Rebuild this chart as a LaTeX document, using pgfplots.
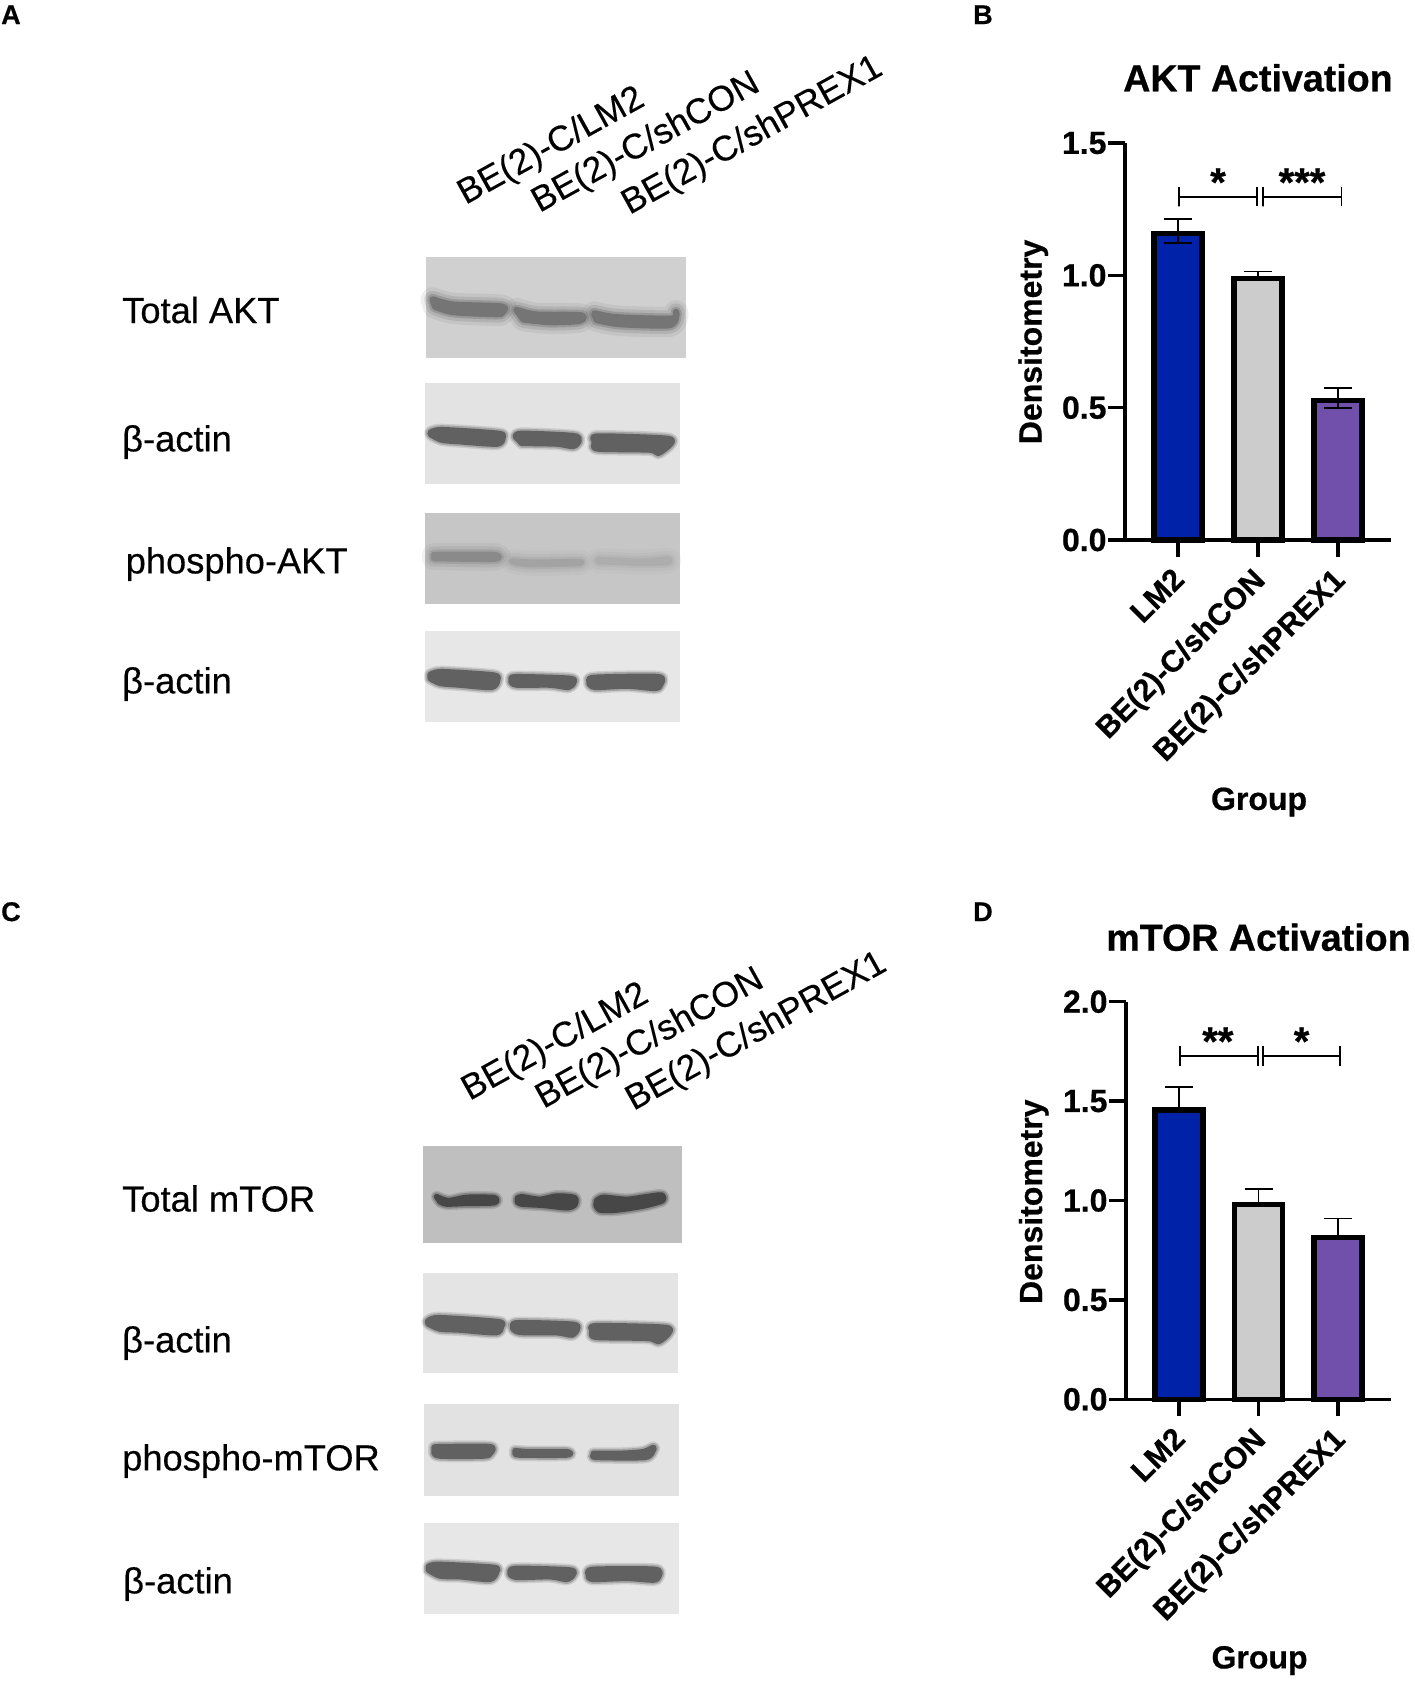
\documentclass[border=0pt]{standalone}
\usepackage{pgfplots}
\pgfplotsset{compat=1.18}
\usepackage{fontspec}
\setmainfont{Liberation Sans}[BoldFeatures={FakeBold=0.6}]
\newfontfamily\lab{Liberation Sans}[FakeBold=0.3]
\definecolor{barblue}{HTML}{0022A8}
\definecolor{bargray}{HTML}{CCCCCC}
\definecolor{barpurple}{HTML}{7050AA}
\newcommand\fs[1]{\fontsize{#1}{#1}\selectfont}
\pgfplotsset{
  zA/.style={x filter/.expression={410+x/3},y filter/.expression={240+y/3}},
  zB/.style={x filter/.expression={410+x/3},y filter/.expression={370+y/3}},
  zC/.style={x filter/.expression={410+x/3},y filter/.expression={1130+y/3}},
  barpanel/.style={
    scale only axis,clip=false,anchor=south west,
    axis lines=left,axis line style={-,line width=3.5pt,black},
    tick style={line width=3.5pt,black},major tick length=17pt,tick align=outside,
    xmin=0.3375,xmax=3.6625,ymin=0,
    xtick={1,2,3},xticklabels={LM2,BE(2)-C/shCON,BE(2)-C/shPREX1},
    tick label style={font=\fs{32}\bfseries},
    yticklabel style={/pgf/number format/fixed,/pgf/number format/fixed zerofill,/pgf/number format/precision=1,/pgf/number format/assume math mode=true,xshift=2pt},
    xticklabel style={font=\fs{30.5}\bfseries,rotate=45,anchor=north east,xshift=-8pt,yshift=2pt},
    title style={font=\fs{37.6}\bfseries,anchor=center},
    label style={font=\fs{32}\bfseries,anchor=center},
    ybar,bar width=48pt,
    every axis plot/.append style={line width=5.5pt,draw=black,bar shift=0pt},
  },
  eb/.style={error bars/.cd,y dir=both,y explicit,
    error bar style={line width=1.5pt,black},
    error mark options={rotate=90,mark size=14pt,line width=1.5pt,black}},
  ebplus/.style={error bars/.cd,y dir=plus,y explicit,
    error bar style={line width=1.5pt,black},
    error mark options={rotate=90,mark size=14pt,line width=1.5pt,black}},
  brk/.style={sharp plot,line width=1.6pt,draw=black,fill=none,no marks},
}
% blot background: style, colour, x0,y0,x1,y1
\newcommand\blot[6]{\addplot[#1,fill=#2,draw=none,forget plot] coordinates {(#3,#4)(#5,#4)(#5,#6)(#3,#6)} --cycle;}
% blurred band: style, colour, polygon
\newcommand\lane[3]{%
  \addplot[#1,smooth,tension=.45,fill=#2,draw=#2,opacity=.18,line width=12pt,line join=round,forget plot] coordinates {#3} --cycle;
  \addplot[#1,smooth,tension=.45,fill=#2,draw=#2,opacity=.35,line width=9pt,line join=round,forget plot] coordinates {#3} --cycle;
  \addplot[#1,smooth,tension=.45,fill=#2,draw=#2,line width=5.5pt,line join=round,forget plot] coordinates {#3} --cycle;}
% wide blur
\newcommand\softlane[3]{%
  \addplot[#1,smooth,tension=.45,fill=#2,draw=#2,opacity=.12,line width=24pt,line join=round,forget plot] coordinates {#3} --cycle;
  \addplot[#1,smooth,tension=.45,fill=#2,draw=#2,opacity=.22,line width=17pt,line join=round,forget plot] coordinates {#3} --cycle;
  \addplot[#1,smooth,tension=.45,fill=#2,draw=#2,opacity=.4,line width=11pt,line join=round,forget plot] coordinates {#3} --cycle;
  \addplot[#1,smooth,tension=.45,fill=#2,draw=#2,line width=6.5pt,line join=round,forget plot] coordinates {#3} --cycle;}
\newcommand\rowlab[3]{\node[anchor=west,inner sep=0pt,font=\lab\fs{36.3}] at (axis cs:#1,#2) {#3};}
\newcommand\lanelab[3]{\node[anchor=base west,inner sep=0pt,rotate=29,font=\lab\fs{35.4}] at (axis cs:#1,#2) {BE(2)-C/#3};}
\newcommand\panlab[3]{\node[anchor=base west,inner sep=0pt,font=\fs{27}\bfseries] at (axis cs:#1,#2) {#3};}
\begin{document}
\begin{tikzpicture}
\path[use as bounding box] (0pt,0pt) rectangle (1415pt,-1682pt);
\begin{axis}[at={(0pt,0pt)},anchor=north west,scale only axis,width=1415pt,height=1682pt,
  xmin=0,xmax=1415,ymin=0,ymax=1682,y dir=reverse,hide axis,clip=false,no marks]
% panel A
\blot{zA}{gray!37!white}{48}{50}{828}{353}
\softlane{zA}{black!54}{(68,178)(130,194)(276,200)(276,218)(258,222)(130,216)(75,200)}
\softlane{zA}{black!54}{(320,210)(380,224)(512,226)(508,242)(420,246)(340,238)}
\softlane{zA}{black!54}{(553,220)(620,232)(785,236)(798,216)(795,242)(770,256)(630,252)(560,240)}
\blot{zB}{gray!22!white}{45}{40}{810}{343}
\lane{zB}{black!62}{(60,188)(95,179)(265,190)(279,202)(262,222)(150,215)(95,210)(62,194)}
\lane{zB}{black!62}{(316,200)(335,190)(490,197)(507,212)(490,229)(440,222)(335,220)}
\lane{zB}{black!62}{(552,210)(565,198)(770,205)(782,222)(745,250)(720,240)(565,237)(552,225)}
\blot{zB}{gray!45!white}{45}{430}{810}{703}
\softlane{zB}{black!46}{(72,555)(250,555)(250,566)(72,564)}
\softlane{zB}{black!36}{(308,574)(370,578)(503,576)(498,579)(370,582)(322,578)}
\softlane{zB}{black!32}{(565,570)(620,572)(690,575)(770,569)(770,576)(690,578)(620,575)(565,574)}
\blot{zB}{gray!19!white}{45}{783}{810}{1057}
\lane{zB}{black!62}{(60,914)(95,905)(250,915)(263,930)(245,952)(150,945)(90,940)(60,925)}
\lane{zB}{black!62}{(303,927)(320,920)(480,925)(491,938)(475,952)(420,945)(320,945)(303,935)}
\lane{zB}{black!62}{(537,932)(555,922)(745,920)(751,945)(735,955)(650,948)(555,952)(537,940)}
% panel C
\blot{zC}{gray!50!white}{40}{48}{815}{338}
\lane{zC}{black!72}{(80,200)(115,212)(170,202)(253,203)(253,218)(170,220)(110,222)(90,215)}
\lane{zC}{black!72}{(322,205)(335,200)(390,208)(440,198)(494,203)(494,225)(470,233)(400,226)(335,222)(322,215)}
\lane{zC}{black!72}{(560,212)(580,202)(650,208)(710,200)(755,195)(757,212)(700,228)(620,240)(570,240)(558,225)}
\blot{zC}{gray!21!white}{40}{428}{803}{730}
\lane{zC}{black!62}{(52,575)(85,563)(265,575)(274,590)(258,608)(150,600)(90,597)(55,582)}
\lane{zC}{black!62}{(308,587)(325,578)(490,583)(501,600)(485,615)(440,608)(330,607)(308,595)}
\lane{zC}{black!62}{(545,598)(560,587)(765,592)(776,610)(745,635)(715,625)(560,622)(545,610)}
\blot{zC}{gray!23!white}{43}{823}{806}{1098}
\lane{zC}{black!62}{(72,952)(90,950)(240,950)(241,970)(220,978)(90,978)(72,968)}
\lane{zC}{black!62}{(315,962)(360,965)(470,965)(470,975)(330,975)(315,970)}
\lane{zC}{black!62}{(550,970)(630,970)(700,965)(730,952)(730,960)(705,982)(560,982)(550,975)}
\blot{zC}{gray!19!white}{43}{1180}{806}{1453}
\lane{zC}{black!62}{(55,1310)(85,1303)(250,1312)(260,1325)(240,1348)(150,1340)(90,1338)(55,1320)}
\lane{zC}{black!62}{(300,1324)(320,1315)(480,1320)(489,1335)(470,1348)(420,1340)(320,1342)(300,1332)}
\lane{zC}{black!62}{(535,1332)(550,1318)(735,1318)(746,1340)(730,1350)(650,1345)(550,1348)(535,1340)}
% panel letters
\panlab{1}{24}{A}
\panlab{973}{24}{B}
\panlab{1}{921}{C}
\panlab{973}{921}{D}
% row labels
\rowlab{122}{310}{Total AKT}
\rowlab{122}{442}{β-actin}
\rowlab{125.5}{564}{phospho-AKT}
\rowlab{122}{684}{β-actin}
\rowlab{122}{1198.5}{Total mTOR}
\rowlab{122}{1343}{β-actin}
\rowlab{122}{1461}{phospho-mTOR}
\rowlab{123}{1584}{β-actin}
% lane labels
\lanelab{465.5}{205}{LM2}
\lanelab{539.5}{213}{shCON}
\lanelab{629.5}{215}{shPREX1}
\lanelab{469.5}{1101}{LM2}
\lanelab{543.5}{1109}{shCON}
\lanelab{633.5}{1111}{shPREX1}
\end{axis}

% panel B
\begin{axis}[barpanel,at={(1125pt,-540pt)},width=266pt,height=397pt,ymax=1.5,ytick={0,0.5,1,1.5},
  title={AKT Activation},title style={at={(axis description cs:0.5,1.149)}},
  xlabel={Group},xlabel style={at={(axis description cs:0.504,-0.66)}},
  ylabel={Densitometry},ylabel style={at={(axis description cs:-0.345,0.499)}}]
\addplot[fill=barblue,eb] coordinates {(1,1.158) += (0,0.055) -= (0,0.035)};
\addplot[fill=bargray,ebplus] coordinates {(2,0.989) += (0,0.025) -= (0,0)};
\addplot[fill=barpurple,eb] coordinates {(3,0.527) += (0,0.047) -= (0,0.028)};
\addplot[brk] coordinates {(1.0125,1.333)(1.0125,1.261)(1.0125,1.297)(1.9875,1.297)(1.9875,1.333)(1.9875,1.261)};
\addplot[brk] coordinates {(2.0625,1.333)(2.0625,1.261)(2.0625,1.297)(3.046,1.297)(3.046,1.333)(3.046,1.261)};
\node[anchor=base,inner sep=0pt,font=\fs{40}\bfseries] at (axis cs:1.5,1.30) {*};
\node[anchor=base,inner sep=0pt,font=\fs{40}\bfseries] at (axis cs:2.55,1.30) {***};
\end{axis}

% panel D
\begin{axis}[barpanel,at={(1126pt,-1399.3pt)},width=265pt,height=397.6pt,ymax=2,ytick={0,0.5,1,1.5,2},
  title={mTOR Activation},title style={at={(axis description cs:0.5,1.147)}},
  xlabel={Group},xlabel style={at={(axis description cs:0.504,-0.657)}},
  ylabel={Densitometry},ylabel style={at={(axis description cs:-0.348,0.497)}}]
\addplot[fill=barblue,ebplus] coordinates {(1,1.456) += (0,0.116) -= (0,0)};
\addplot[fill=bargray,ebplus] coordinates {(2,0.981) += (0,0.078) -= (0,0)};
\addplot[fill=barpurple,ebplus] coordinates {(3,0.814) += (0,0.096) -= (0,0)};
\addplot[brk] coordinates {(1.016,1.777)(1.016,1.677)(1.016,1.727)(1.996,1.727)(1.996,1.777)(1.996,1.677)};
\addplot[brk] coordinates {(2.054,1.777)(2.054,1.677)(2.054,1.727)(3.021,1.727)(3.021,1.777)(3.021,1.677)};
\node[anchor=base,inner sep=0pt,font=\fs{40}\bfseries] at (axis cs:1.49,1.732) {**};
\node[anchor=base,inner sep=0pt,font=\fs{40}\bfseries] at (axis cs:2.54,1.732) {*};
\end{axis}
\end{tikzpicture}
\end{document}
